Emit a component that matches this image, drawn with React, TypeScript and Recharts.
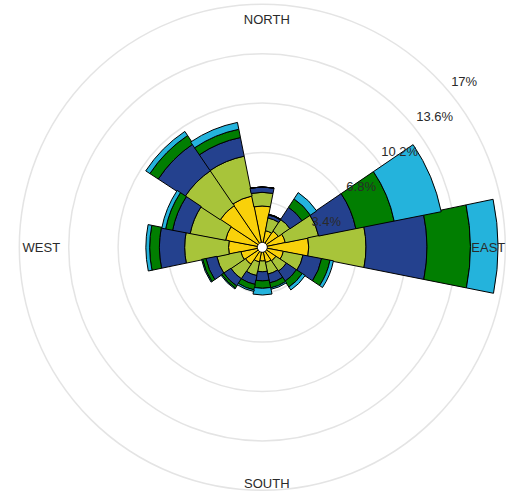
import React from 'react';
import {
  RadialBarChart,
  RadialBar,
  PolarGrid,
  PolarAngleAxis,
  PolarRadiusAxis,
} from 'recharts';

// Wind directions (clockwise from north)
const directions = ['N', 'NNE', 'NE', 'ENE', 'E', 'ESE', 'SE', 'SSE', 'S', 'SSW', 'SW', 'WSW', 'W', 'WNW', 'NW', 'NNW'];

// Frequency (%) of each speed class per direction (stacked from the centre outward)
const band1 = [3.12, 1.44, 1.61, 1.89, 3.47, 1.75, 1.40, 1.34, 1.22, 1.30, 1.68, 1.78, 2.60, 2.85, 3.74, 3.88];
const band2 = [0.94, 0.89, 0.96, 2.34, 3.94, 1.38, 0.86, 0.82, 0.74, 0.96, 1.20, 1.69, 3.02, 2.48, 2.90, 2.79];
const band3 = [0.37, 0.21, 1.00, 2.61, 4.20, 1.30, 0.83, 0.62, 0.63, 0.62, 0.59, 0.76, 1.74, 1.23, 2.20, 1.31];
const band4 = [0.00, 0.05, 0.69, 2.69, 2.99, 0.59, 0.48, 0.35, 0.51, 0.38, 0.17, 0.24, 0.67, 0.49, 0.69, 0.58];
const band5 = [0.00, 0.00, 0.52, 3.30, 1.90, 0.24, 0.24, 0.10, 0.46, 0.11, 0.07, 0.07, 0.26, 0.27, 0.34, 0.48];

// Radial axis
const radialTicks = [3.4, 6.8, 10.2, 13.6, 17];
const radialTickLabels = ['3.4%', '6.8%', '10.2%', '13.6%', '17%'];
const radialMin = 0.62;
const radialMax = 17;

// Compass labels
const compassLabels: Record<string, string> = { N: 'NORTH', E: 'EAST', S: 'SOUTH', W: 'WEST' };

const bandKeys = ['band1', 'band2', 'band3', 'band4', 'band5'];
const bandColors = ['#F9D10A', '#A8C43A', '#24418E', '#017E01', '#24B3DC'];

const data = directions.map((dir, i) => ({
  dir,
  band1: band1[i],
  band2: band2[i],
  band3: band3[i],
  band4: band4[i],
  band5: band5[i],
}));

const FONT = '"Liberation Sans", Arial, Helvetica, sans-serif';
const HALF_SECTOR = 360 / directions.length / 2;

const labelRadius: Record<string, number> = { NORTH: 228, EAST: 226, SOUTH: 236, WEST: 221 };
const labelShiftX: Record<string, number> = { NORTH: 4.5, EAST: 0, SOUTH: 4.5, WEST: 0 };

const AngleTick = (props: any) => {
  const { cx, cy, payload } = props;
  const label = compassLabels[payload?.value];
  if (!label) return null;
  const r = labelRadius[label];
  const a = ((payload.coordinate + HALF_SECTOR) * Math.PI) / 180;
  const x = cx + r * Math.cos(a) + labelShiftX[label];
  const y = cy - r * Math.sin(a);
  return (
    <text
      x={x}
      y={y}
      textAnchor="middle"
      dominantBaseline="central"
      fontFamily={FONT}
      fontSize={13}
      fill="#2a2a2a"
    >
      {label}
    </text>
  );
};

const RadiusTick = (props: any) => {
  const { x, y, payload } = props;
  const idx = radialTicks.indexOf(payload?.value);
  const label = idx >= 0 ? radialTickLabels[idx] : '';
  return (
    <text
      x={x + 17}
      y={y + 6}
      textAnchor="start"
      dominantBaseline="central"
      fontFamily={FONT}
      fontSize={13}
      fill="#2a2a2a"
    >
      {label}
    </text>
  );
};

export default function App() {
  return (
    <div style={{ position: 'fixed', left: 0, top: 0, background: '#fff' }}>
      <RadialBarChart
        width={509}
        height={494}
        cx={262.3}
        cy={247.3}
        innerRadius={5}
        outerRadius={243}
        data={data}
        layout="centric"
        startAngle={90 - HALF_SECTOR}
        endAngle={90 - HALF_SECTOR - 360}
        barCategoryGap={0}
        barGap={0}
        margin={{ top: 0, right: 0, bottom: 0, left: 0 }}
      >
        <PolarGrid gridType="circle" radialLines={false} stroke="#e4e4e4" strokeWidth={1.5} />
        <PolarAngleAxis
          type="category"
          dataKey="dir"
          axisLine={false}
          tickLine={false}
          tick={<AngleTick />}
        />
        {bandKeys.map((k, i) => (
          <RadialBar
            key={k}
            dataKey={k}
            stackId="wind"
            fill={bandColors[i]}
            stroke="#000"
            strokeWidth={1}
            isAnimationActive={false}
          />
        ))}
        <PolarRadiusAxis
          type="number"
          angle={45}
          domain={[radialMin, radialMax]}
          ticks={radialTicks}
          allowDataOverflow
          axisLine={false}
          tickLine={false}
          tick={<RadiusTick />}
        />
      </RadialBarChart>
    </div>
  );
}
